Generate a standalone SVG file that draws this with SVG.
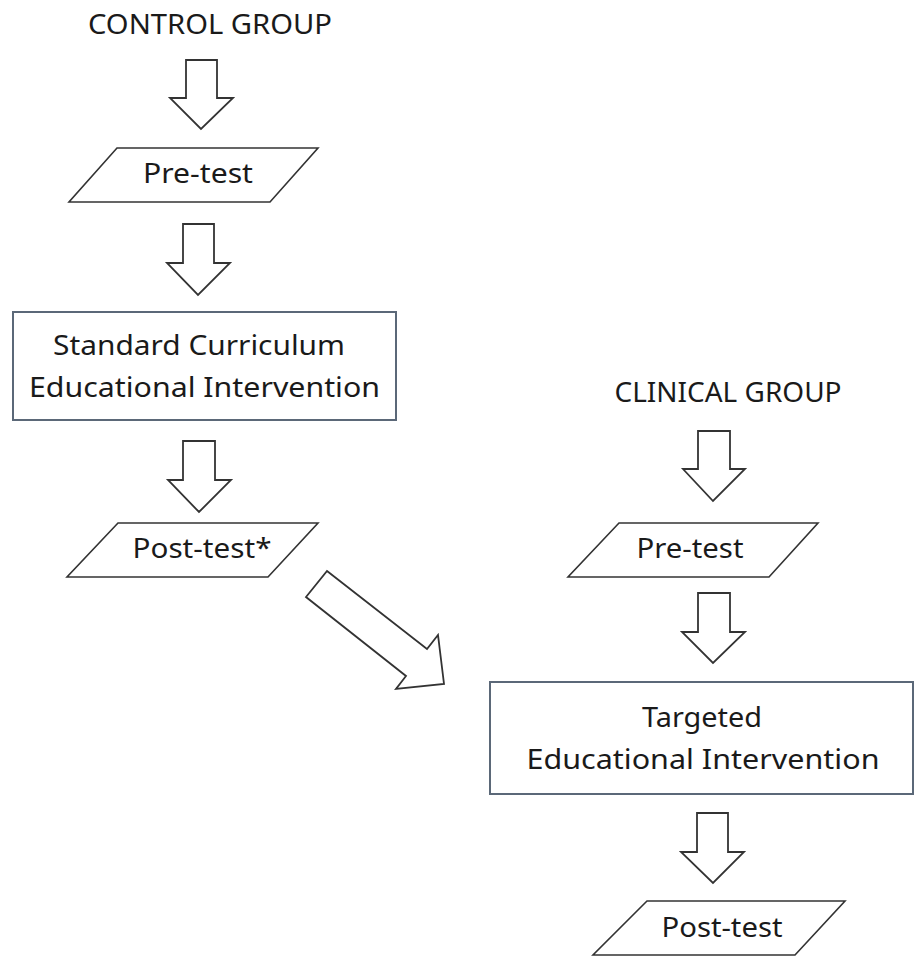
<svg xmlns="http://www.w3.org/2000/svg" width="915" height="956" viewBox="0 0 915 956">
<style>
.t{font-family:"Noto Sans","Open Sans",sans-serif;font-size:28px;fill:#1a1a1a;text-anchor:middle}
.para{fill:#fff;stroke:#333;stroke-width:1.6}
.box{fill:#fff;stroke:#5b6878;stroke-width:2}
.arr{fill:#fff;stroke:#333;stroke-width:1.8;stroke-linejoin:miter}
</style>
<rect width="915" height="956" fill="#fff"/>
<g id="connectors">
<polygon class="arr" points="186,60 217,60 217,98 233,98 201,129 170,98 186,98"/>
<polygon class="arr" points="183,224 214,224 214,263 230,263 198,295 167,263 183,263"/>
<polygon class="arr" points="183,441 215,441 215,480 231,480 199,512 168,480 183,480"/>
<polygon class="arr" points="327,571 427,649 438,635 444,684 396,689 406,676 306,597"/>
<polygon class="arr" points="698,431 730,431 730,469 745,469 713,501 683,469 698,469"/>
<polygon class="arr" points="698,593 730,593 730,632 745,632 713,663 682,632 698,632"/>
<polygon class="arr" points="697,813 728,813 728,852 744,852 713,883 681,852 697,852"/>
</g>
<g id="control-group">
<text class="t" x="210" y="34" textLength="244" lengthAdjust="spacingAndGlyphs">CONTROL GROUP</text>
</g>
<g id="control-pretest">
<polygon class="para" points="117,148 318,148 270,202 69,202"/>
<text class="t" x="198" y="183" textLength="110" lengthAdjust="spacingAndGlyphs">Pre-test</text>
</g>
<g id="standard-curriculum">
<rect class="box" x="13" y="312" width="383" height="108"/>
<text class="t" x="199" y="355" textLength="292" lengthAdjust="spacingAndGlyphs">Standard Curriculum</text>
<text class="t" x="204.5" y="397" textLength="351" lengthAdjust="spacingAndGlyphs">Educational Intervention</text>
</g>
<g id="control-posttest">
<polygon class="para" points="118,523 318,523 268,577 67,577"/>
<text class="t" x="202" y="558" textLength="139" lengthAdjust="spacingAndGlyphs">Post-test*</text>
</g>
<g id="clinical-group">
<text class="t" x="728" y="402" textLength="227" lengthAdjust="spacingAndGlyphs">CLINICAL GROUP</text>
</g>
<g id="clinical-pretest">
<polygon class="para" points="619,523 818,523 769,577 568,577"/>
<text class="t" x="690" y="558" textLength="107" lengthAdjust="spacingAndGlyphs">Pre-test</text>
</g>
<g id="targeted-intervention">
<rect class="box" x="490" y="682" width="423" height="112"/>
<text class="t" x="702" y="727" textLength="120" lengthAdjust="spacingAndGlyphs">Targeted</text>
<text class="t" x="703" y="769" textLength="353" lengthAdjust="spacingAndGlyphs">Educational Intervention</text>
</g>
<g id="clinical-posttest">
<polygon class="para" points="647,901 845,901 795,955 593,955"/>
<text class="t" x="722" y="937" textLength="121" lengthAdjust="spacingAndGlyphs">Post-test</text>
</g>
</svg>
